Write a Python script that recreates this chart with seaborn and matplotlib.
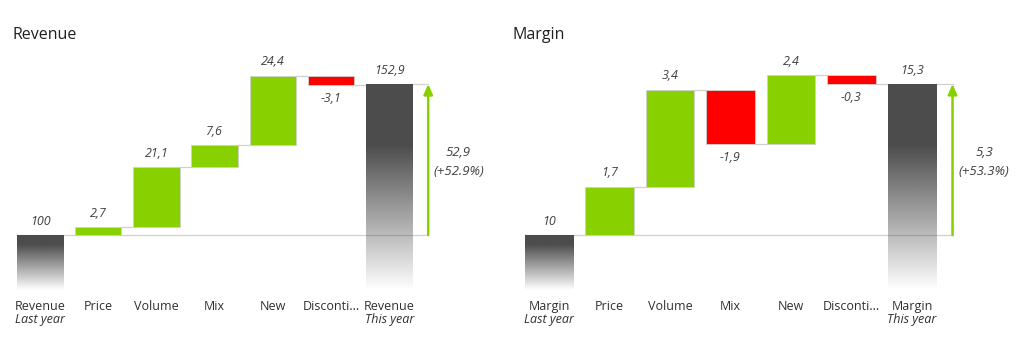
import matplotlib
matplotlib.use('Agg')
import matplotlib.pyplot as plt
import numpy as np
import seaborn as sns

# Revenue panel
rev_title = 'Revenue'
rev_labels = ['Revenue', 'Price', 'Volume', 'Mix', 'New', 'Disconti...', 'Revenue']
rev_sub = ['Last year', '', '', '', '', '', 'This year']
rev_start = 100
rev_deltas = [2.7, 21.1, 7.6, 24.4, -3.1]
rev_end = 152.9
rev_pct = 52.9

# Margin panel
mar_title = 'Margin'
mar_labels = ['Margin', 'Price', 'Volume', 'Mix', 'New', 'Disconti...', 'Margin']
mar_sub = ['Last year', '', '', '', '', '', 'This year']
mar_start = 10
mar_deltas = [1.7, 3.4, -1.9, 2.4, -0.3]
mar_end = 15.3
mar_pct = 53.3

GREEN = '#88D000'
RED = '#FF0000'
DARK = '#484848'
GRID = '#d0d0d0'
TXT = '#404040'
W = 0.8
FS = 9


def fmt(v):
    return ('%.1f' % v).replace('.', ',') if v != int(v) else '%d' % v


def gradient_bar(ax, x, bottom, top, solid):
    bar = ax.bar(x, top - bottom, W, bottom=bottom, facecolor='none', edgecolor='none')[0]
    n = 256
    t = np.linspace(0, 1, n)
    alpha = np.where(t < solid, 1.0, 1.0 - (t - solid) / (1 - solid))
    rgb = matplotlib.colors.to_rgb(DARK)
    img = np.zeros((n, 1, 4))
    img[:, 0, :3] = rgb
    img[:, 0, 3] = np.clip(alpha, 0, 1) * 0.98
    im = ax.imshow(img, extent=(x - W / 2, x + W / 2, bottom, top), origin='upper',
                   aspect='auto', interpolation='bilinear', zorder=2)
    im.set_clip_path(bar)


def waterfall(ax, labels, sub, start, deltas, end, pct, ylo, yhi):
    ax.set_xlim(-0.5, 7.5)
    ax.set_ylim(ylo, yhi)
    arrow_x = 6.67
    off = (yhi - ylo) * 0.03

    # baseline
    ax.plot([-W / 2, arrow_x], [start, start], color=GRID, lw=0.9, zorder=1)

    gradient_bar(ax, 0, ylo, start, 0.18)
    ax.text(0, start + off, fmt(start), ha='center', va='bottom',
            style='italic', color=TXT, fontsize=FS)

    level = start
    for i, d in enumerate(deltas):
        x = i + 1
        ax.bar(x, d, W, bottom=level, color=GREEN if d > 0 else RED,
               edgecolor=GRID, linewidth=0.6, zorder=3)
        new = level + d
        # connector to next bar
        ax.plot([x + W / 2, x + 1 - W / 2], [new, new], color=GRID, lw=0.9, zorder=1)
        if d > 0:
            ax.text(x, new + off, fmt(d), ha='center', va='bottom',
                    style='italic', color=TXT, fontsize=FS)
        else:
            ax.text(x, new - off, fmt(d), ha='center', va='top',
                    style='italic', color=TXT, fontsize=FS)
        level = new

    gradient_bar(ax, 6, ylo, end, 0.3)
    ax.text(6, end + off, fmt(end), ha='center', va='bottom',
            style='italic', color=TXT, fontsize=FS)
    ax.plot([6 + W / 2, arrow_x], [end, end], color=GRID, lw=0.9, zorder=1)

    ax.annotate('', xy=(arrow_x, end), xytext=(arrow_x, start),
                arrowprops=dict(arrowstyle='-|>,head_length=0.5,head_width=0.22',
                                color=GREEN, lw=1.8, shrinkA=0, shrinkB=0))
    mid = (start + end) / 2 - (yhi - ylo) * 0.012
    ax.text(7.19, mid, '%s\n(+%.1f%%)' % (fmt(end - start), pct), ha='center',
            va='center', style='italic', color=TXT, fontsize=9.5, linespacing=1.6)

    ax.set_xticks(range(len(labels)), labels)
    ax.tick_params(axis='x', length=0, pad=7, labelsize=FS, labelcolor='#303030')
    ax.set_yticks([])
    for i, s in enumerate(sub):
        if s:
            ax.text(i, -0.125, s, transform=ax.get_xaxis_transform(), ha='center',
                    va='center', style='italic', fontsize=FS, color='#303030')
    for sp in ax.spines.values():
        sp.set_visible(False)


sns.set_theme(style='white')
plt.rcParams['font.family'] = ['Open Sans', 'DejaVu Sans']

fig = plt.figure(figsize=(10.24, 3.64), dpi=100)
ax1 = fig.add_axes([10.9 / 1024, 1 - 290 / 364, 465.6 / 1024, 240 / 364])
ax2 = fig.add_axes([518.75 / 1024, 1 - 290 / 364, 484 / 1024, 240 / 364])

waterfall(ax1, rev_labels, rev_sub, rev_start, rev_deltas, rev_end, rev_pct, 80.73, 164.8)
waterfall(ax2, mar_labels, mar_sub, mar_start, mar_deltas, mar_end, mar_pct, 8.07, 16.49)

fig.text(12 / 1024, 1 - 35 / 364, rev_title, ha='left', va='center', fontsize=11.5, color='#202020')
fig.text(512 / 1024, 1 - 35 / 364, mar_title, ha='left', va='center', fontsize=11.5, color='#202020')

fig.savefig('out.png', dpi=100, facecolor='white')
plt.close(fig)
